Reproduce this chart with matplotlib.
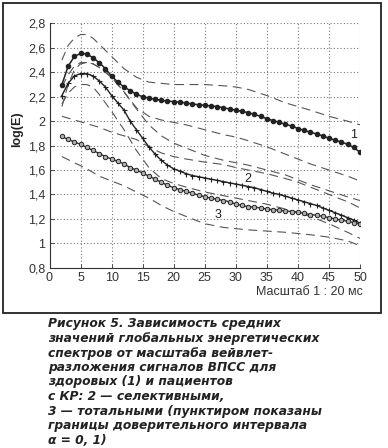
import matplotlib
matplotlib.use("Agg")
import matplotlib.pyplot as plt
from matplotlib.patches import Rectangle

# ---------------- data ----------------
scales = list(range(2, 51))

healthy = [2.30, 2.45, 2.53, 2.555, 2.55, 2.52, 2.48, 2.43, 2.37, 2.32,
           2.28, 2.25, 2.22, 2.20, 2.19, 2.18, 2.17, 2.165, 2.16, 2.155,
           2.15, 2.14, 2.135, 2.13, 2.125, 2.12, 2.11, 2.10, 2.09, 2.08,
           2.07, 2.055, 2.04, 2.02, 2.005, 1.99, 1.975, 1.96, 1.94, 1.925,
           1.91, 1.895, 1.88, 1.86, 1.845, 1.83, 1.81, 1.785, 1.745]

selective = [2.21, 2.31, 2.37, 2.39, 2.39, 2.37, 2.33, 2.28, 2.21, 2.15,
             2.09, 2.00, 1.93, 1.86, 1.79, 1.73, 1.68, 1.64, 1.61, 1.59,
             1.57, 1.555, 1.545, 1.535, 1.525, 1.515, 1.505, 1.495, 1.485, 1.475,
             1.465, 1.455, 1.44, 1.425, 1.41, 1.40, 1.385, 1.37, 1.355, 1.34,
             1.325, 1.31, 1.29, 1.27, 1.25, 1.23, 1.21, 1.19, 1.165]

total = [1.875, 1.85, 1.83, 1.81, 1.785, 1.76, 1.735, 1.71, 1.69, 1.67,
         1.65, 1.62, 1.60, 1.575, 1.55, 1.525, 1.50, 1.475, 1.455, 1.44,
         1.425, 1.41, 1.395, 1.38, 1.37, 1.36, 1.35, 1.34, 1.32, 1.31,
         1.30, 1.295, 1.29, 1.28, 1.275, 1.27, 1.265, 1.26, 1.255, 1.245,
         1.235, 1.23, 1.22, 1.21, 1.20, 1.19, 1.18, 1.17, 1.155]

band_x = [2, 3, 4, 5, 6, 7, 8, 10, 12, 14, 16, 18, 20, 22, 25, 28, 30, 32,
          35, 38, 40, 42, 45, 48, 50]
upper1 = [2.50, 2.62, 2.68, 2.71, 2.71, 2.68, 2.63, 2.53, 2.43, 2.36, 2.32,
          2.31, 2.30, 2.30, 2.30, 2.29, 2.28, 2.26, 2.21, 2.15, 2.12, 2.09,
          2.04, 2.00, 1.97]
lower1 = [2.12, 2.30, 2.42, 2.47, 2.48, 2.47, 2.44, 2.36, 2.24, 2.11, 2.04,
          2.01, 1.99, 1.97, 1.93, 1.89, 1.87, 1.84, 1.79, 1.73, 1.69, 1.65,
          1.60, 1.55, 1.51]
upper2 = [2.28, 2.38, 2.45, 2.48, 2.48, 2.47, 2.44, 2.36, 2.24, 2.10, 1.97,
          1.88, 1.82, 1.78, 1.72, 1.68, 1.66, 1.64, 1.60, 1.56, 1.52, 1.48,
          1.43, 1.38, 1.35]
lower2 = [2.14, 2.23, 2.28, 2.30, 2.30, 2.28, 2.22, 2.08, 1.93, 1.76, 1.62,
          1.53, 1.49, 1.46, 1.42, 1.39, 1.37, 1.35, 1.32, 1.28, 1.25, 1.22,
          1.16, 1.09, 1.04]
upper3 = [2.04, 2.025, 2.01, 1.995, 1.98, 1.965, 1.95, 1.91, 1.88, 1.85, 1.79,
          1.74, 1.71, 1.69, 1.665, 1.645, 1.62, 1.60, 1.57, 1.53, 1.50, 1.46,
          1.40, 1.34, 1.29]
lower3 = [1.71, 1.685, 1.66, 1.635, 1.61, 1.58, 1.55, 1.51, 1.47, 1.42, 1.37,
          1.31, 1.26, 1.22, 1.16, 1.13, 1.12, 1.11, 1.10, 1.09, 1.08, 1.07,
          1.05, 1.02, 0.98]

x_ticks = [0, 5, 10, 15, 20, 25, 30, 35, 40, 45, 50]
y_ticks = [0.8, 1.0, 1.2, 1.4, 1.6, 1.8, 2.0, 2.2, 2.4, 2.6, 2.8]
y_tick_labels = ["0,8", "1", "1,2", "1,4", "1,6", "1,8", "2", "2,2", "2,4", "2,6", "2,8"]
curve_labels = [("1", 48.9, 1.89), ("2", 32.0, 1.53), ("3", 27.2, 1.23)]

caption = ["Рисунок 5. Зависимость средних",
           "значений глобальных энергетических",
           "спектров от масштаба вейвлет-",
           "разложения сигналов ВПСС для",
           "здоровых (1) и пациентов",
           "с КР: 2 — селективными,",
           "3 — тотальными (пунктиром показаны",
           "границы доверительного интервала",
           "α = 0, 1)"]

# ---------------- figure ----------------
W, H = 388, 448
fig = plt.figure(figsize=(W / 100, H / 100), dpi=100)
plt.rcParams['font.family'] = ['Liberation Sans', 'DejaVu Sans']

# outer frame
fig.patches.append(Rectangle((3 / W, 1 - 313 / H), 378 / W, 310 / H,
                             transform=fig.transFigure, fill=False,
                             edgecolor="#222222", linewidth=1.3))

ax = fig.add_axes([49.5 / W, 1 - 267.7 / H, 310.5 / W, 244.2 / H])
ax.set_xlim(0, 50)
ax.set_ylim(0.8, 2.8)

dash_kw = dict(color="#555555", linewidth=0.8, dashes=(8, 5))
for band in (upper1, lower1, upper2, lower2, upper3, lower3):
    ax.plot(band_x, band, **dash_kw)

ax.plot(scales, healthy, color="#222222", linewidth=1.1, marker="o",
        markersize=3.0, markerfacecolor="#222222", markeredgecolor="#222222")
ax.plot(scales, selective, color="#222222", linewidth=1.0, marker="+",
        markersize=3.6, markeredgewidth=0.8)
ax.plot(scales, total, color="#333333", linewidth=1.0, marker="o",
        markersize=3.2, markerfacecolor="#b0b0b0", markeredgecolor="#222222",
        markeredgewidth=0.7)

for txt, xx, yy in curve_labels:
    ax.text(xx, yy, txt, fontsize=9, color="#222222", ha="center", va="center")

ax.set_xticks(x_ticks)
ax.set_yticks(y_ticks)
ax.set_yticklabels(y_tick_labels)
ax.tick_params(direction="in", length=3, width=0.6, labelsize=9,
               colors="#333333", pad=3)
ax.grid(True, linestyle=(0, (1, 2)), color="#777777", linewidth=0.8)
for s in ("top", "right"):
    ax.spines[s].set_visible(False)
for s in ("left", "bottom"):
    ax.spines[s].set_color("#333333")
    ax.spines[s].set_linewidth(0.8)

ax.set_ylabel("log(E)", fontsize=9, fontweight="bold", color="#222222")
ax.yaxis.set_label_coords(-0.085, 0.568)

fig.text(363 / W, 1 - 292 / H, "Масштаб 1 : 20 мс", fontsize=9,
         color="#333333", ha="right", va="center")

y0 = 324
for i, line in enumerate(caption):
    fig.text(48 / W, 1 - (y0 + i * 14.5) / H, line, fontsize=8.8,
             fontweight="bold", fontstyle="italic", color="#222222",
             family=["DejaVu Sans"], ha="left", va="center")

fig.savefig("out.png", dpi=100)
